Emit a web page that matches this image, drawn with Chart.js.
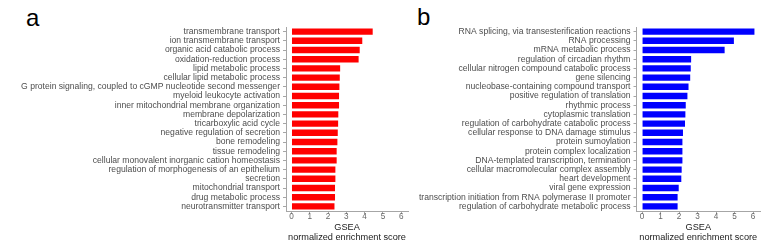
<!DOCTYPE html>
<html><head><meta charset="utf-8">
<script src="https://cdn.jsdelivr.net/npm/chart.js@4/dist/chart.umd.min.js"></script>
<style>
html,body{margin:0;padding:0;background:#fff;width:784px;height:250px;overflow:hidden;position:relative;font-family:"Liberation Sans",Arial,sans-serif}
canvas{position:absolute;top:0}
.lbl{position:absolute;font-size:24px;line-height:24px;color:#000}
</style></head>
<body>
<div class="lbl" style="left:26px;top:6px">a</div>
<div class="lbl" style="left:417px;top:5px">b</div>
<canvas id="ca" width="410" height="250" style="left:0"></canvas>
<canvas id="cb" width="379" height="250" style="left:405px"></canvas>
<script>
const categoriesA = ["transmembrane transport","ion transmembrane transport","organic acid catabolic process","oxidation-reduction process","lipid metabolic process","cellular lipid metabolic process","G protein signaling, coupled to cGMP nucleotide second messenger","myeloid leukocyte activation","inner mitochondrial membrane organization","membrane depolarization","tricarboxylic acid cycle","negative regulation of secretion","bone remodeling","tissue remodeling","cellular monovalent inorganic cation homeostasis","regulation of morphogenesis of an epithelium","secretion","mitochondrial transport","drug metabolic process","neurotransmitter transport"];
const valuesA = [4.44,3.87,3.73,3.67,2.66,2.64,2.62,2.60,2.60,2.56,2.55,2.53,2.51,2.47,2.47,2.40,2.40,2.38,2.38,2.35];
const categoriesB = ["RNA splicing, via transesterification reactions","RNA processing","mRNA metabolic process","regulation of circadian rhythm","cellular nitrogen compound catabolic process","gene silencing","nucleobase-containing compound transport","positive regulation of translation","rhythmic process","cytoplasmic translation","regulation of carbohydrate catabolic process","cellular response to DNA damage stimulus","protein sumoylation","protein complex localization","DNA-templated transcription, termination","cellular macromolecular complex assembly","heart development","viral gene expression","transcription initiation from RNA polymerase II promoter","regulation of carbohydrate metabolic process"];
const valuesB = [6.07,4.96,4.46,2.65,2.63,2.60,2.51,2.45,2.36,2.34,2.32,2.21,2.18,2.18,2.18,2.14,2.12,1.98,1.92,1.92];
const xTicks = [0,1,2,3,4,5,6];
const xTitle = ["GSEA","normalized enrichment score"];

const FONT = "'Liberation Sans', Arial, sans-serif";
const AXIS = '#a6a6a6';

function makeChart(id, cats, vals, color, yWidth, padRight){
  return new Chart(document.getElementById(id), {
    type: 'bar',
    data: { labels: cats, datasets: [{ data: vals, backgroundColor: color, borderWidth: 0, barPercentage: 0.7, categoryPercentage: 1 }] },
    options: {
      indexAxis: 'y', responsive: false, animation: false, devicePixelRatio: 1,
      layout: { padding: { left: 0, right: padRight, top: 27, bottom: 0 } },
      plugins: { legend: { display: false }, tooltip: { enabled: false } },
      scales: {
        y: {
          type: 'category', offset: true,
          grid: { display: true, drawOnChartArea: false, drawTicks: true, tickLength: 3, offset: false, color: AXIS, tickColor: AXIS },
          border: { display: true, color: AXIS, width: 1 },
          ticks: { autoSkip: false, padding: 3, color: '#4d4d4d', font: { family: FONT, size: 8.6 } },
          afterFit: s => { s.width = yWidth; }
        },
        x: {
          type: 'linear', min: -0.3, max: 6.37,
          afterBuildTicks: s => { s.ticks = xTicks.map(v => ({ value: v })); },
          grid: { display: true, drawOnChartArea: false, drawTicks: true, tickLength: 3, color: AXIS, tickColor: AXIS },
          border: { display: true, color: AXIS, width: 1 },
          ticks: { padding: -2, color: '#666', font: { family: FONT, size: 8.2 } },
          title: { display: true, text: xTitle, color: '#1a1a1a', font: { family: FONT, size: 9.2, lineHeight: 1.08 }, padding: { top: 0, bottom: 8 } },
          afterFit: s => { s.height = 39; }
        }
      }
    }
  });
}
makeChart('ca', categoriesA, valuesA, '#ff0000', 286, 2);
makeChart('cb', categoriesB, valuesB, '#0000ff', 231.5, 379 - 355);
</script>
</body></html>
